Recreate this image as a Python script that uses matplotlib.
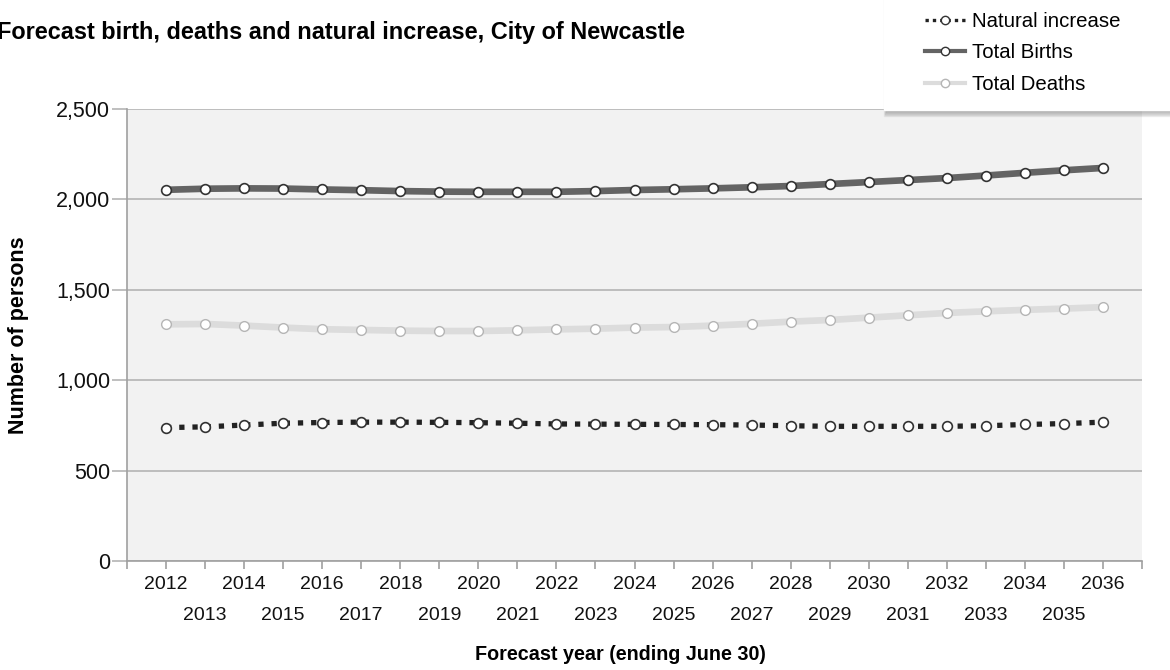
import numpy as np
import matplotlib.pyplot as plt
from matplotlib.lines import Line2D
from matplotlib.patches import Rectangle
from matplotlib.ticker import FuncFormatter

plt.rcParams['font.family'] = ['Liberation Sans', 'DejaVu Sans']

# Datos
years = list(range(2012, 2037))
births = [2053, 2059, 2061, 2060, 2055, 2051, 2046, 2043, 2042, 2042, 2042,
          2046, 2052, 2056, 2061, 2067, 2074, 2085, 2096, 2107, 2118, 2132,
          2147, 2161, 2174]
deaths = [1309, 1311, 1302, 1291, 1282, 1278, 1274, 1272, 1272, 1276, 1281,
          1285, 1291, 1294, 1302, 1312, 1324, 1333, 1346, 1359, 1372, 1381,
          1389, 1396, 1404]
natural = [738, 742, 752, 762, 766, 768, 768, 767, 765, 762, 758, 757, 756,
           755, 754, 752, 748, 745, 745, 745, 745, 748, 755, 760, 768]

x = np.arange(len(years))

fig = plt.figure(figsize=(11.7, 6.7), dpi=100)
ax = fig.add_axes([127 / 1170, 1 - 561 / 670, (1142 - 127) / 1170, (561 - 109) / 670])
ax.set_facecolor('#f2f2f2')

# Series
ax.plot(x, deaths, color='#dcdcdc', lw=4.8, solid_capstyle='butt', zorder=3,
        marker='o', ms=7, mfc='white', mec='#b5b5b5', mew=1.0)
ax.plot(x, births, color='#646464', lw=4.8, solid_capstyle='butt', zorder=4,
        marker='o', ms=7, mfc='white', mec='#333333', mew=1.2)
ax.plot(x, natural, color='#222222', lw=3.8, linestyle=(0, (1, 1.5)),
        dash_capstyle='butt', zorder=5,
        marker='o', ms=7, mfc='white', mec='#333333', mew=1.2)

# Ejes
ax.set_xlim(-1, len(years))
ax.set_ylim(0, 2500)
ax.set_yticks(range(0, 2501, 500))
ax.yaxis.set_major_formatter(FuncFormatter(lambda v, p: f'{int(v):,}'))
ax.grid(axis='y', color='#b4b4b4', lw=1.2)
ax.set_axisbelow(True)

even = [i for i in x if years[i] % 2 == 0]
odd = [-1] + [i for i in x if years[i] % 2 == 1] + [len(years)]
ax.set_xticks(even)
ax.set_xticklabels([str(years[i]) for i in even])
ax.set_xticks(odd, minor=True)
ax.set_xticklabels([''] + [str(years[i]) for i in odd[1:-1]] + [''], minor=True)
ax.tick_params(axis='x', which='both', length=6, color='#a0a0a0', width=1.2,
               labelsize=14, labelcolor='#111111')
ax.tick_params(axis='x', which='major', pad=5)
ax.tick_params(axis='x', which='minor', pad=27)
ax.tick_params(axis='y', length=11, color='#b4b4b4', width=1.2, pad=1,
               labelsize=15.5, labelcolor='#111111')

for s in ['top', 'right']:
    ax.spines[s].set_visible(False)
ax.spines['left'].set_color('#a0a0a0')
ax.spines['bottom'].set_color('#a0a0a0')
ax.spines['left'].set_linewidth(1.2)
ax.spines['bottom'].set_linewidth(1.2)

fig.text(620 / 1170, 1 - 655 / 670, 'Forecast year (ending June 30)',
         ha='center', va='center', fontsize=14.2, fontweight='bold')
fig.text(19 / 1170, 1 - 335 / 670, 'Number of persons', rotation=90,
         ha='center', va='center', fontsize=15.5, fontweight='bold')
fig.text(-3 / 1170, 1 - 33 / 670,
         'Forecast birth, deaths and natural increase, City of Newcastle',
         ha='left', va='center', fontsize=16.9, fontweight='bold')

# Leyenda con sombra
x0, y0 = 884 / 1170, 1 - 110 / 670
for k in range(6):
    fig.patches.append(Rectangle((x0 + 0.0005 * k, y0 - (6 - k) / 670), 1, 0.2,
                                 transform=fig.transFigure, color='#555555',
                                 alpha=0.07, zorder=1))
fig.patches.append(Rectangle((x0, y0), 1, 0.2, transform=fig.transFigure,
                             color='white', zorder=2))
handles = [
    Line2D([], [], color='#222222', lw=2.4, linestyle=(0, (1, 1.2)),
           dash_capstyle='butt', marker='o', ms=6, mfc='white', mec='#333333'),
    Line2D([], [], color='#646464', lw=3, marker='o', ms=6,
           mfc='white', mec='#333333'),
    Line2D([], [], color='#dcdcdc', lw=3, marker='o', ms=6,
           mfc='white', mec='#b5b5b5'),
]
leg = fig.legend(handles, ['Natural increase', 'Total Births', 'Total Deaths'],
                 loc='upper left', bbox_to_anchor=(917 / 1170, 1 - 4 / 670),
                 frameon=False, fontsize=14.7, handlelength=1.95,
                 handletextpad=0.35, labelspacing=0.6, borderaxespad=0)
leg.set_zorder(5)

fig.savefig('out.png', dpi=100)
